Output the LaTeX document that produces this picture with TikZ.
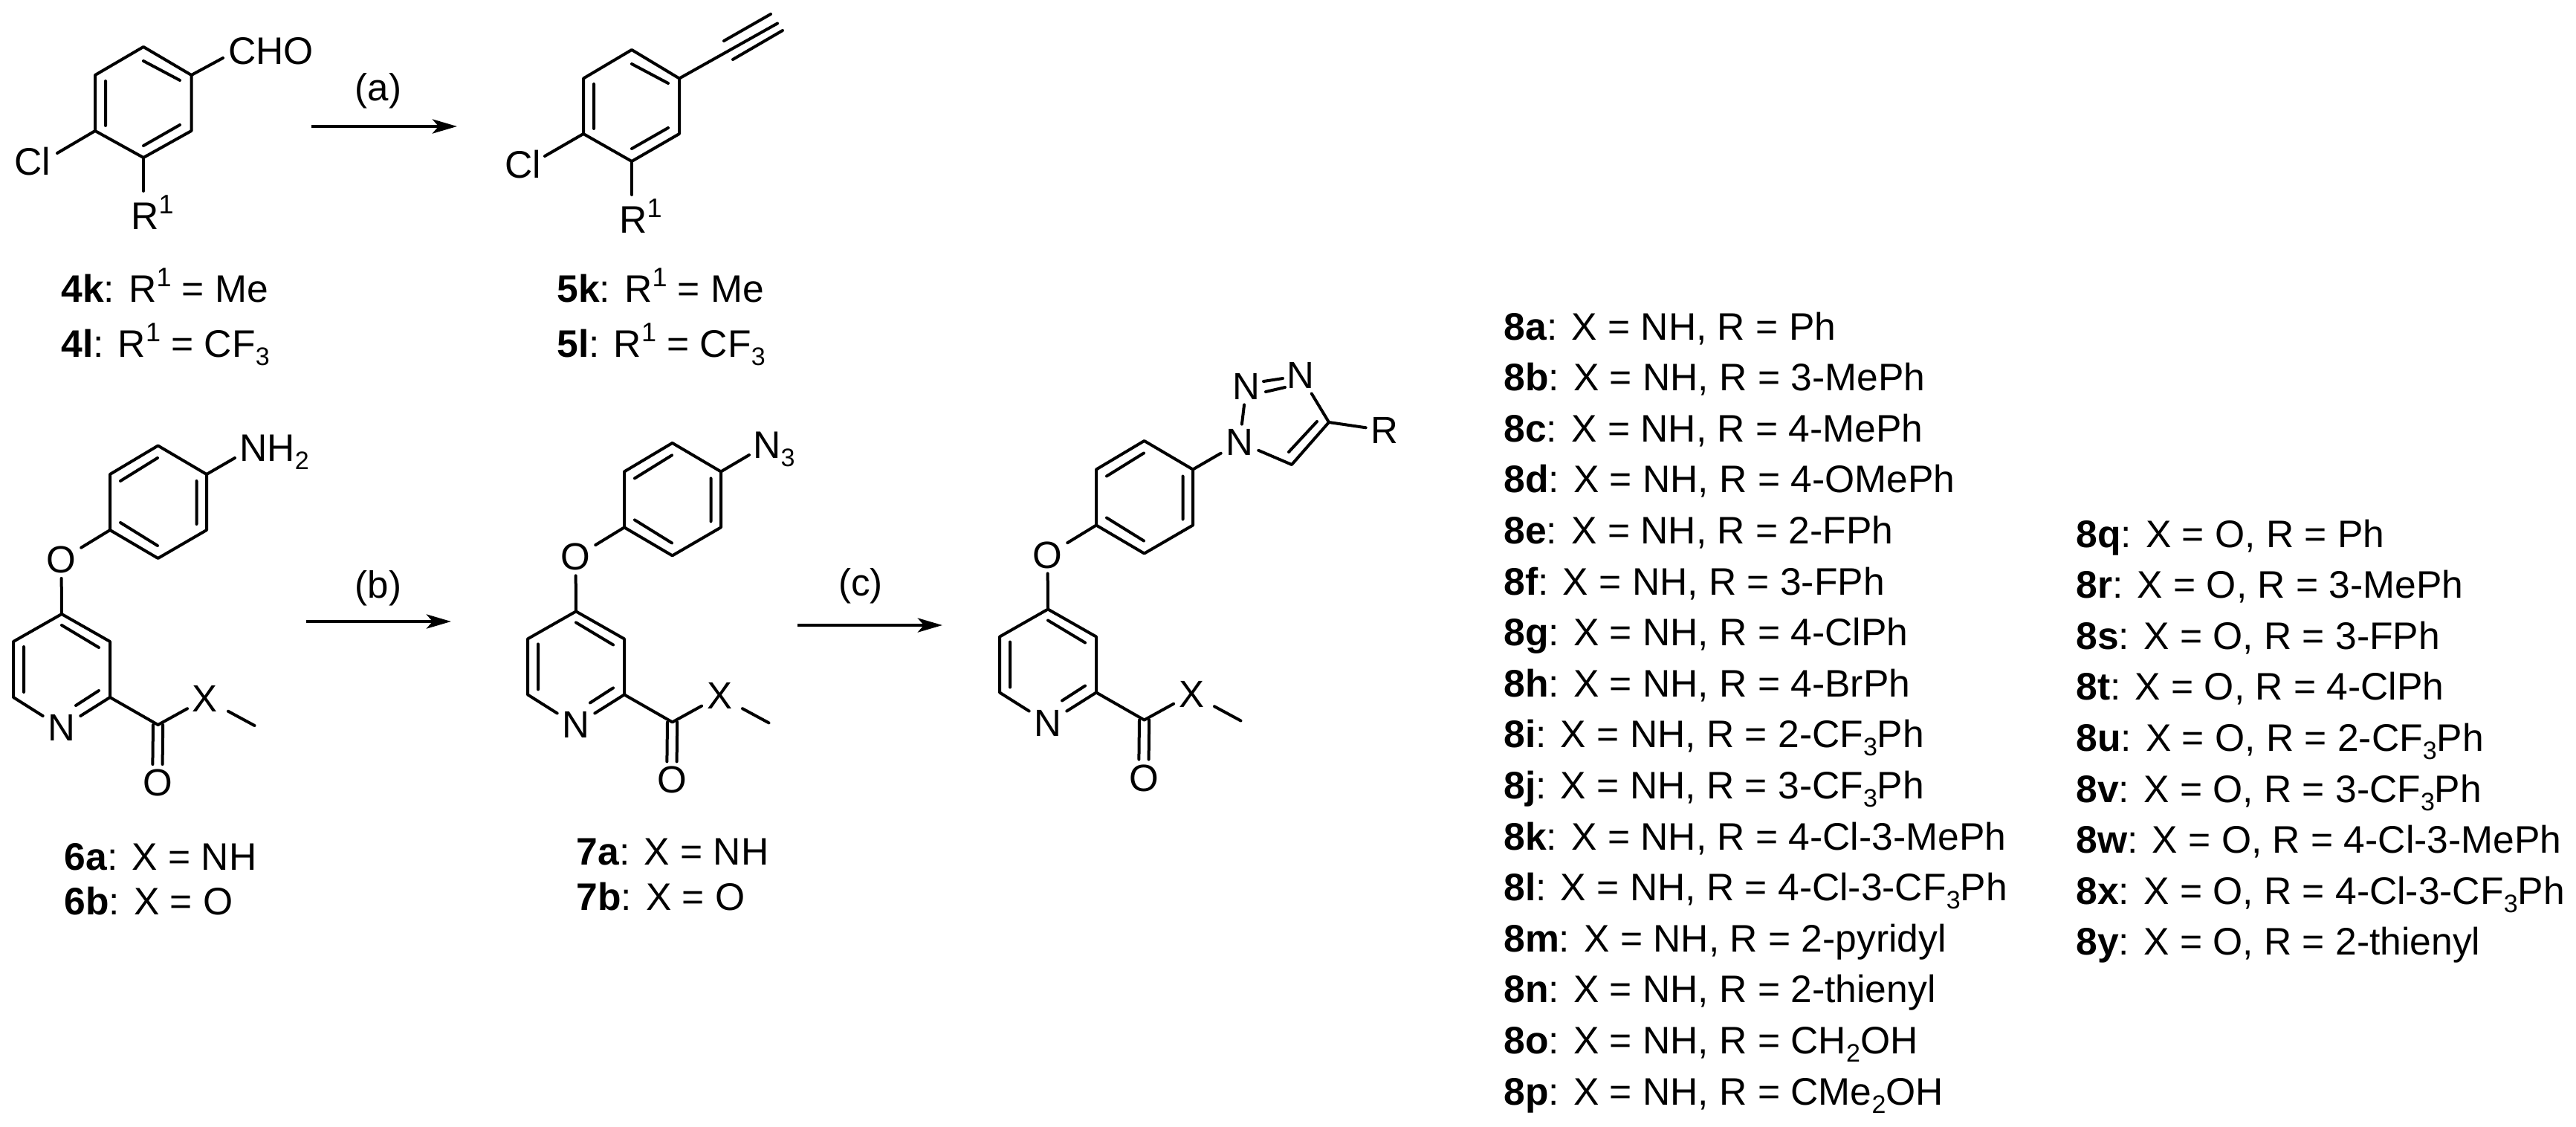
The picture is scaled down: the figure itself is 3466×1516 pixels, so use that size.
\documentclass[tikz,border=0pt]{standalone}
\usepackage{fontspec}
\setmainfont{Liberation Sans}
\usetikzlibrary{arrows.meta}
\tikzset{
  bond/.style={line width=2pt,line cap=round,line join=round},
  atom/.style={inner sep=3.25pt,anchor=center,font=\fontsize{25.5}{28}\selectfont},
  lab/.style={inner sep=0pt,anchor=base west,font=\fontsize{25.8}{28}\selectfont},
  rxn/.style={line width=2.3pt,-{Stealth[length=16.5pt,width=9.5pt,inset=4pt]}},
}
\newcommand{\sbs}[1]{\raisebox{-5.5pt}{\fontsize{17}{20}\selectfont #1}}
\newcommand{\sps}[1]{\raisebox{10.5pt}{\fontsize{18}{20}\selectfont #1}}
\newcommand{\PyrEther}[2]{%
\begin{scope}[shift={(#1)}]
  \coordinate (#2a1) at (212.6,599.5); \coordinate (#2a2) at (278,638); \coordinate (#2a3) at (278,713);
  \coordinate (#2a4) at (212.6,751); \coordinate (#2a5) at (148,713); \coordinate (#2a6) at (148,638);
  \draw[bond] (#2a1)--(#2a2)--(#2a3)--(#2a4)--(#2a5)--(#2a6)--cycle;
  \draw[bond] (212,616)--(162,647) (162,703)--(212,734) (264.5,647)--(264.5,705);
  \node[atom] (#2oeth) at (82.5,753) {O};
  \coordinate (#2p1) at (83,826); \coordinate (#2p2) at (148,863); \coordinate (#2p3) at (148,938);
  \coordinate (#2p5) at (18,938); \coordinate (#2p6) at (18,863);
  \node[atom] (#2npy) at (83,979) {N};
  \draw[bond] (#2a5)--(#2oeth);
  \draw[bond] (#2oeth)--(#2p1);
  \draw[bond] (#2npy)--(#2p5)--(#2p6)--(#2p1)--(#2p2)--(#2p3)--(#2npy);
  \draw[bond] (83,841)--(133,871) (32,870)--(32,931) (133,929)--(102,949);
  \coordinate (#2cc) at (212.6,975);
  \node[atom] (#2xa) at (276,940) {X};
  \node[atom] (#2oc) at (212,1053) {O};
  \coordinate (#2me) at (342.5,976);
  \draw[bond] (#2p3)--(#2cc)--(#2xa);
  \draw[bond,shorten <=4pt] (#2xa)--(#2me);
  \draw[bond] ([xshift=-3.3pt]#2cc)--([xshift=-3.3pt]#2oc.north) ([xshift=3.3pt]#2cc)--([xshift=3.3pt]#2oc.north);
\end{scope}}
\begin{document}
\begin{tikzpicture}[x=0.5pt,y=-0.5pt]
\useasboundingbox (0,0) rectangle (3466,1516);
% --- 4k / 4l
\begin{scope}
  \coordinate (k1) at (193,63); \coordinate (k2) at (257.5,101); \coordinate (k3) at (257.5,176);
  \coordinate (k4) at (193,212); \coordinate (k5) at (128,176); \coordinate (k6) at (128,101);
  \draw[bond] (k1)--(k2)--(k3)--(k4)--(k5)--(k6)--cycle;
  \draw[bond] (193,82)--(242,108) (142,109)--(142,169) (242,168)--(193,196);
\end{scope}
\node[lab] (cho) at (307,86) {CHO};
\coordinate (choend) at (300,78);
\draw[bond] (k2)--(choend);
\node[lab] (cla) at (19,235) {Cl};
\coordinate (clend) at (77,206);
\draw[bond] (k5)--(clend);
\node[lab] (ra) at (176,308) {R\sps{1}};
\coordinate (raend) at (193,257);
\draw[bond] (k4)--(raend);
% --- 5k / 5l
\coordinate (m1) at (850,67); \coordinate (m2) at (914,105.5); \coordinate (m3) at (914,180);
\coordinate (m4) at (850,217); \coordinate (m5) at (785,180); \coordinate (m6) at (785,105.5);
\draw[bond] (m1)--(m2)--(m3)--(m4)--(m5)--(m6)--cycle;
\draw[bond] (850,86)--(899,112) (799,113)--(799,173) (899,172)--(850,200);
\coordinate (ya) at (974,55); \coordinate (yb) at (1037,19); \coordinate (yc) at (986,80); \coordinate (yd) at (1053,41);
\coordinate (yend) at (1046,31.5);
\draw[bond] (m2)--(yend) (ya)--(yb) (yc)--(yd);
\node[lab] (clb) at (679,239) {Cl};
\coordinate (clbend) at (733,210);
\draw[bond] (m5)--(clbend);
\node[lab] (rb) at (833,313) {R\sps{1}};
\coordinate (rbend) at (850,262);
\draw[bond] (m4)--(rbend);
% --- reaction arrows
\coordinate (aa) at (419,170); \coordinate (ab) at (615,170);
\draw[rxn] (aa)--(ab);
\node[atom] (la) at (509,122) {(a)};
\coordinate (ba) at (412,836); \coordinate (bb) at (607,836);
\draw[rxn] (ba)--(bb);
\node[atom] (lb) at (509,791) {(b)};
\coordinate (ca) at (1073,841); \coordinate (cb) at (1268,841);
\draw[rxn] (ca)--(cb);
\node[atom] (lc) at (1158,788) {(c)};
% --- molecules 6, 7, 8
\PyrEther{0,0}{s}
\PyrEther{692,-3.6}{z}
\PyrEther{1327,-6.5}{t}
\node[lab] (nh) at (322,620) {NH\sbs{2}};
\coordinate (nhend) at (316,616);
\draw[bond] (sa2)--(nhend);
\node[lab] (nn) at (1013,616) {N\sbs{3}};
\coordinate (nnend) at (1008,612);
\draw[bond] (za2)--(nnend);
% triazole
\node[atom] (na) at (1668,595) {N};
\node[atom] (nb) at (1677,520) {N};
\node[atom] (nc) at (1750,505) {N};
\coordinate (c4) at (1788,568); \coordinate (c5) at (1738,625);
\node[atom] (rr) at (1863,579) {R};
\draw[bond] (ta2)--(na);
\draw[bond] (na)--(nb);
\draw[bond] (nc)--(c4)--(c5)--(na);
\draw[bond] (c4)--(rr);
\draw[bond] (1700,513)--(1726,509) (1703,527)--(1729,521) (1772,567)--(1734,608);
% --- compound labels
\node[lab] (l4k) at (82,406) {\textbf{4k}: R\sps{1} = Me};
\node[lab] (l4l) at (82,480) {\textbf{4l}: R\sps{1} = CF\sbs{3}};
\node[lab] (l5k) at (749,406) {\textbf{5k}: R\sps{1} = Me};
\node[lab] (l5l) at (749,480) {\textbf{5l}: R\sps{1} = CF\sbs{3}};
\node[lab] (l6a) at (86,1170) {\textbf{6a}: X = NH};
\node[lab] (l6b) at (86,1230) {\textbf{6b}: X = O};
\node[lab] (l7a) at (775,1163) {\textbf{7a}: X = NH};
\node[lab] (l7b) at (775,1224) {\textbf{7b}: X = O};
% --- list left
\node[lab] (r8a) at (2023,457) {\textbf{8a}: X = NH, R = Ph};
\node[lab] (r8b) at (2023,525.6) {\textbf{8b}: X = NH, R = 3-MePh};
\node[lab] (r8c) at (2023,594.2) {\textbf{8c}: X = NH, R = 4-MePh};
\node[lab] (r8d) at (2023,662.8) {\textbf{8d}: X = NH, R = 4-OMePh};
\node[lab] (r8e) at (2023,731.4) {\textbf{8e}: X = NH, R = 2-FPh};
\node[lab] (r8f) at (2023,800) {\textbf{8f}: X = NH, R = 3-FPh};
\node[lab] (r8g) at (2023,868.6) {\textbf{8g}: X = NH, R = 4-ClPh};
\node[lab] (r8h) at (2023,937.2) {\textbf{8h}: X = NH, R = 4-BrPh};
\node[lab] (r8i) at (2023,1005.8) {\textbf{8i}: X = NH, R = 2-CF\sbs{3}Ph};
\node[lab] (r8j) at (2023,1074.4) {\textbf{8j}: X = NH, R = 3-CF\sbs{3}Ph};
\node[lab] (r8k) at (2023,1143) {\textbf{8k}: X = NH, R = 4-Cl-3-MePh};
\node[lab] (r8l) at (2023,1211.6) {\textbf{8l}: X = NH, R = 4-Cl-3-CF\sbs{3}Ph};
\node[lab] (r8m) at (2023,1280.2) {\textbf{8m}: X = NH, R = 2-pyridyl};
\node[lab] (r8n) at (2023,1348.8) {\textbf{8n}: X = NH, R = 2-thienyl};
\node[lab] (r8o) at (2023,1417.4) {\textbf{8o}: X = NH, R = CH\sbs{2}OH};
\node[lab] (r8p) at (2023,1486) {\textbf{8p}: X = NH, R = CMe\sbs{2}OH};
% --- list right
\node[lab] (r8q) at (2793,736) {\textbf{8q}: X = O, R = Ph};
\node[lab] (r8r) at (2793,804.6) {\textbf{8r}: X = O, R = 3-MePh};
\node[lab] (r8s) at (2793,873.2) {\textbf{8s}: X = O, R = 3-FPh};
\node[lab] (r8t) at (2793,941.8) {\textbf{8t}: X = O, R = 4-ClPh};
\node[lab] (r8u) at (2793,1010.4) {\textbf{8u}: X = O, R = 2-CF\sbs{3}Ph};
\node[lab] (r8v) at (2793,1079) {\textbf{8v}: X = O, R = 3-CF\sbs{3}Ph};
\node[lab] (r8w) at (2793,1147.6) {\textbf{8w}: X = O, R = 4-Cl-3-MePh};
\node[lab] (r8x) at (2793,1216.2) {\textbf{8x}: X = O, R = 4-Cl-3-CF\sbs{3}Ph};
\node[lab] (r8y) at (2793,1284.8) {\textbf{8y}: X = O, R = 2-thienyl};
\end{tikzpicture}
\end{document}
